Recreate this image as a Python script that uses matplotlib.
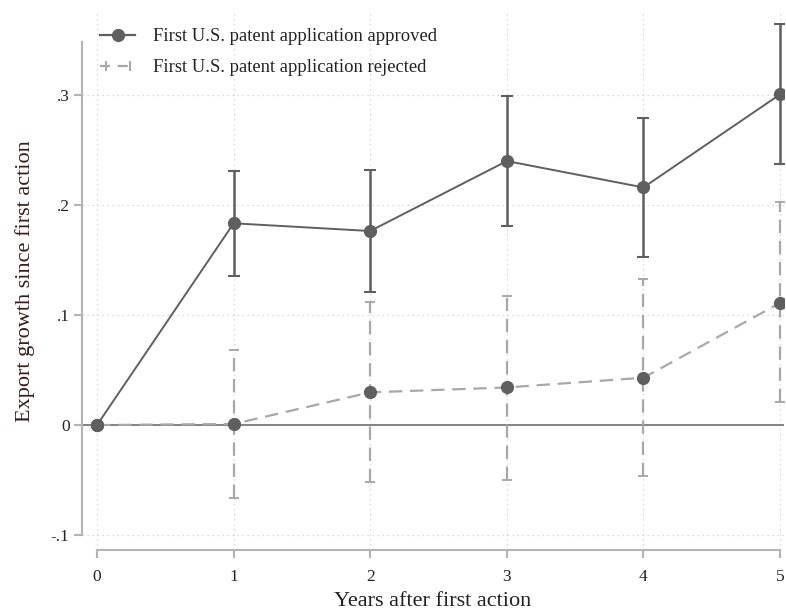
import matplotlib.pyplot as plt
from matplotlib.lines import Line2D
from matplotlib.legend_handler import HandlerLine2D

years = [0, 1, 2, 3, 4, 5]

approved = [0.0, 0.1834, 0.1764, 0.240, 0.216, 0.3006]
approved_lo = [0.0, 0.1358, 0.1209, 0.1812, 0.153, 0.2376]
approved_hi = [0.0, 0.2306, 0.2321, 0.299, 0.279, 0.3645]

rejected = [0.0, 0.001, 0.0297, 0.0342, 0.043, 0.111]
rejected_lo = [0.0, -0.066, -0.0515, -0.050, -0.0464, 0.0206]
rejected_hi = [0.0, 0.0679, 0.1115, 0.1176, 0.1324, 0.2024]

yticks = [-0.1, 0, 0.1, 0.2, 0.3]
ytick_labels = ['-.1', '0', '.1', '.2', '.3']

dark = '#5f5f5f'
light = '#a8a8a8'
axis_gray = '#b4b4b4'
serif = ['Liberation Serif', 'DejaVu Serif']

fig = plt.figure(figsize=(7.86, 6.14), dpi=100)
ax = fig.add_axes([82 / 786, 64 / 614, 702 / 786, 538 / 614])
ax.set_xlim(-0.11, 5.029)
ax.set_ylim(-0.1136, 0.3755)

# grid
for y in yticks:
    ax.axhline(y, color='#d0d0d0', lw=0.9, ls=(0, (1, 3)), zorder=0)
for x in years:
    ax.axvline(x, color='#d0d0d0', lw=0.9, ls=(0, (1, 3)), zorder=0)

ax.axhline(0, color='#7a7a7a', lw=1.3, zorder=1)

# rejected: dashed light line with dashed error bars
rej_err = [[r - lo for r, lo in zip(rejected, rejected_lo)],
           [hi - r for r, hi in zip(rejected, rejected_hi)]]
eb = ax.errorbar(years[1:], rejected[1:],
                 yerr=[rej_err[0][1:], rej_err[1][1:]],
                 fmt='none', ecolor=light, elinewidth=1.6, capsize=3.5,
                 capthick=1.4, zorder=2)
for lc in eb[2]:
    lc.set_linestyle((0, (6, 3.5)))
ax.plot(years, rejected, color=light, lw=1.6, ls=(0, (6, 3.5)), zorder=3)
ax.plot(years, rejected, 'o', color=dark, ms=8.5, zorder=5)

# approved: solid dark line with error bars
app_err = [[a - lo for a, lo in zip(approved, approved_lo)],
           [hi - a for a, hi in zip(approved, approved_hi)]]
ax.errorbar(years[1:], approved[1:],
            yerr=[app_err[0][1:], app_err[1][1:]],
            fmt='none', ecolor=dark, elinewidth=1.8, capsize=4.5,
            capthick=1.5, zorder=3)
ax.plot(years, approved, color=dark, lw=1.4, zorder=4)
ax.plot(years, approved, 'o', color=dark, ms=8.5, zorder=6)

# axes styling
for side in ['top', 'right']:
    ax.spines[side].set_visible(False)
ax.spines['left'].set_bounds(-0.1, 0.348)
ax.spines['bottom'].set_bounds(0, 5)
for side in ['left', 'bottom']:
    ax.spines[side].set_color(axis_gray)
    ax.spines[side].set_linewidth(1.5)
ax.set_xticks(years)
ax.set_yticks(yticks)
ax.set_yticklabels(ytick_labels)
ax.tick_params(axis='both', colors=axis_gray, width=1.5, length=6,
               labelcolor='#222222', labelsize=12.5)
ax.tick_params(axis='x', pad=8)
ax.tick_params(axis='y', pad=3)
for lab in ax.get_xticklabels() + ax.get_yticklabels():
    lab.set_family(serif)

ax.set_xlabel('Years after first action', family=serif, fontsize=16,
              color='#222222', labelpad=5)
ax.set_ylabel('Export growth since first action', family=serif, fontsize=16,
              color='#3a1a1a', labelpad=11)

# legend
h_app = Line2D([], [], color=dark, lw=1.6, marker='o', ms=8.5)
h_rej_line = Line2D([], [], color=light, lw=1.6, ls=(0, (4.5, 3.5)))
h_rej_caps = Line2D([], [], color=light, ls='none', marker='|', ms=7,
                    mew=1.4)
leg = ax.legend([h_app, (h_rej_line, h_rej_caps)],
                ['First U.S. patent application approved',
                 'First U.S. patent application rejected'],
                handler_map={h_rej_caps: HandlerLine2D(numpoints=2)},
                loc='upper left', bbox_to_anchor=(100 / 786, 1 - 28 / 614),
                bbox_transform=fig.transFigure, frameon=False,
                prop={'family': serif, 'size': 13.4}, handlelength=1.9,
                handletextpad=0.95, labelspacing=0.75, borderaxespad=0,
                borderpad=0)
for t in leg.get_texts():
    t.set_color('#222222')

fig.savefig('out.png', dpi=100)
